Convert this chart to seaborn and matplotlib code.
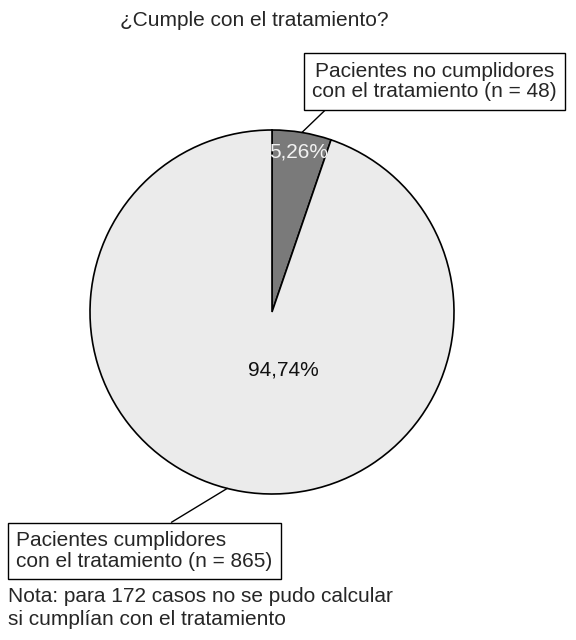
import numpy as np
import matplotlib
matplotlib.use("Agg")
import matplotlib.pyplot as plt
import seaborn as sns

# data
labels = ["Pacientes no cumplidores\ncon el tratamiento (n = 48)",
          "Pacientes cumplidores\ncon el tratamiento (n = 865)"]
counts = [48, 865]
colors = ["#7a7a7a", "#ebebeb"]
title = "¿Cumple con el tratamiento?"
note = "Nota: para 172 casos no se pudo calcular\nsi cumplían con el tratamiento"

sns.set_theme(style="white")
plt.rcParams["font.family"] = ["Liberation Sans", "DejaVu Sans"]

W, H = 576, 640
fig = plt.figure(figsize=(W / 100, H / 100), dpi=100)
ax = fig.add_axes([0, 0, 1, 1])

cx, cy, r = 272, 328, 182
fs = 15

def pct_fmt(p):
    return f"{p:.2f}%".replace(".", ",")

wedges, texts, autotexts = ax.pie(
    counts, colors=colors, startangle=90, counterclock=False,
    center=(cx, cy), radius=r, autopct=pct_fmt, pctdistance=0.89,
    wedgeprops=dict(edgecolor="black", linewidth=1.2),
    textprops=dict(fontsize=fs),
)
autotexts[0].set_color("#f2f2f2")
autotexts[1].set_color("#111111")
autotexts[1].set_position((cx + 0.06 * r, cy - 0.32 * r))

ax.set_xlim(0, W)
ax.set_ylim(0, H)
ax.set_aspect("equal")
ax.axis("off")

def edge_point(w, frac=0.5):
    ang = np.deg2rad(w.theta1 + frac * (w.theta2 - w.theta1))
    return cx + r * np.cos(ang), cy + r * np.sin(ang)

box = dict(boxstyle="square,pad=0.4", facecolor="white", edgecolor="black", linewidth=1)

# label for non-compliant slice (top right)
ax.annotate(labels[0], xy=edge_point(wedges[0]), xytext=(434.5, 558.5),
            ha="center", va="center", fontsize=fs, linespacing=1.12, bbox=box,
            arrowprops=dict(arrowstyle="-", color="black", lw=1,
                            relpos=(0.09, 0.0), shrinkA=0, shrinkB=0))

# label for compliant slice (bottom left)
ax.annotate(labels[1], xy=edge_point(wedges[1], 0.486), xytext=(16, 89),
            ha="left", va="center", fontsize=fs, linespacing=1.12, bbox=box,
            arrowprops=dict(arrowstyle="-", color="black", lw=1,
                            relpos=(0.55, 1.0), shrinkA=0, shrinkB=0))

ax.text(254, 620, title, ha="center", va="center", fontsize=fs)
ax.text(8, 32, note, ha="left", va="center", fontsize=fs, linespacing=1.3)

fig.savefig("out.png", dpi=100, facecolor="white")
